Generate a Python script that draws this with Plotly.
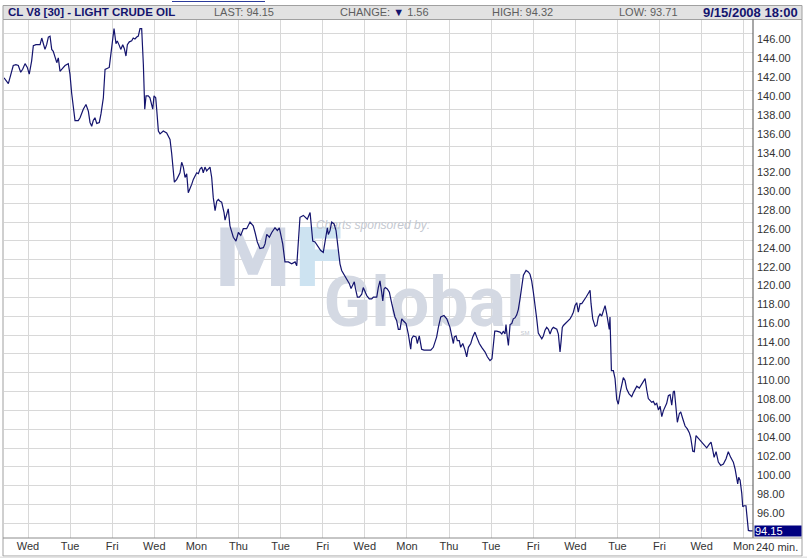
import plotly.graph_objects as go

# CL V8 light crude oil, 30 min bars, 2 Jul - 15 Sep 2008
# x is counted in trading sessions from Wed 2 Jul (one grid step = 3 sessions)
day = [
    -1.71, -1.40, -1.05, -0.86, -0.69, -0.52, -0.38, -0.21, -0.05, 0.09,
    0.26, 0.38, 0.57, 0.86, 0.98, 1.09, 1.21, 1.33, 1.45, 1.57,
    1.69, 1.80, 1.92, 2.05, 2.16, 2.28, 2.40, 2.64, 2.87, 2.99,
    3.11, 3.23, 3.35, 3.58, 3.71, 3.94, 4.13, 4.30, 4.42, 4.54,
    4.65, 4.77, 4.90, 5.08, 5.20, 5.37, 5.49, 5.79, 5.89, 6.04,
    6.13, 6.27, 6.36, 6.51, 6.61, 6.75, 6.86, 6.98, 7.08, 7.22,
    7.39, 7.50, 7.62, 7.75, 7.86, 7.98, 8.10, 8.22, 8.32, 8.41,
    8.57, 8.69, 8.81, 8.89, 8.98, 9.10, 9.17, 9.29, 9.41, 9.64,
    9.88, 10.00, 10.12, 10.24, 10.35, 10.43, 10.60, 10.83, 10.95, 11.07,
    11.19, 11.31, 11.42, 11.54, 11.67, 11.78, 11.90, 12.02, 12.14, 12.26,
    12.38, 12.49, 12.61, 12.73, 12.97, 13.09, 13.20, 13.33, 13.45, 13.56,
    13.68, 13.80, 13.97, 14.04, 14.27, 14.39, 14.63, 14.82, 14.99, 15.16,
    15.34, 15.58, 15.82, 16.05, 16.18, 16.34, 16.53, 16.77, 16.89, 17.01,
    17.20, 17.37, 17.60, 17.77, 17.91, 18.01, 18.15, 18.31, 18.55, 18.79,
    19.03, 19.15, 19.26, 19.38, 19.62, 19.90, 20.10, 20.22, 20.29, 20.45,
    20.69, 20.86, 21.04, 21.24, 21.33, 21.40, 21.52, 21.64, 21.81, 21.95,
    22.11, 22.23, 22.35, 22.52, 22.71, 22.90, 23.02, 23.14, 23.25, 23.32,
    23.47, 23.61, 23.78, 23.89, 24.01, 24.14, 24.32, 24.49, 24.61, 24.85,
    24.96, 25.08, 25.20, 25.28, 25.37, 25.46, 25.60, 25.75, 25.92, 26.03,
    26.15, 26.27, 26.39, 26.51, 26.63, 26.74, 26.94, 27.10, 27.27, 27.34,
    27.46, 27.65, 27.74, 27.88, 28.05, 28.22, 28.41, 28.70, 28.88, 29.12,
    29.24, 29.41, 29.64, 29.84, 30.07, 30.31, 30.38, 30.50, 30.59, 30.73,
    30.83, 30.98, 31.14, 31.26, 31.38, 31.55, 31.69, 31.85, 31.97, 32.16,
    32.33, 32.57, 32.73, 32.92, 33.06, 33.16, 33.26, 33.40, 33.63, 33.76,
    33.87, 33.99, 34.06, 34.15, 34.23, 34.35, 34.47, 34.58, 34.70, 34.82,
    34.94, 35.06, 35.18, 35.30, 35.49, 35.65, 35.77, 35.89, 36.01, 36.13,
    36.25, 36.36, 36.49, 36.61, 36.72, 36.84, 36.96, 37.08, 37.20, 37.32,
    37.43, 37.56, 37.68, 37.79, 37.91, 37.99, 38.07, 38.15, 38.27, 38.39,
    38.50, 38.62, 38.74, 38.86, 38.98, 39.10, 39.21, 39.34, 39.46, 39.57,
    39.77, 39.93, 40.05, 40.12, 40.24, 40.41, 40.53, 40.64, 40.76, 40.88,
    41.00, 41.12, 41.24, 41.35, 41.42, 41.47, 41.52, 41.57, 41.71, 41.83,
    41.95, 42.06, 42.19, 42.31, 42.42, 42.54, 42.66, 42.83, 43.02, 43.13,
    43.38, 43.56, 43.73, 43.85, 43.97, 44.09, 44.20, 44.32, 44.44, 44.56,
    44.68, 44.80, 44.92, 45.04, 45.16, 45.27, 45.39, 45.51, 45.63, 45.75,
    45.87, 45.98, 46.06, 46.18, 46.27, 46.41, 46.51, 46.65, 46.82, 46.98,
    47.12, 47.22, 47.37, 47.48, 47.60, 47.77, 48.01, 48.24, 48.36, 48.55,
    48.67, 48.79, 48.89, 49.03, 49.19, 49.36, 49.55, 49.74, 49.90, 50.07,
    50.26, 50.38, 50.50, 50.57, 50.64, 50.74, 50.86, 50.93, 51.02, 51.16,
    51.21, 51.33, 51.45, 51.64,
]
price = [
    141.9, 141.3, 143.2, 143.3, 143.2, 142.5, 142.8, 143.4, 143.0, 142.3,
    143.7, 145.3, 145.4, 145.4, 146.1, 145.6, 144.9, 145.4, 146.2, 146.3,
    144.9, 144.7, 144.2, 143.5, 144.0, 142.6, 142.8, 143.2, 143.4, 142.3,
    140.3, 138.8, 137.4, 137.4, 137.7, 138.6, 139.1, 138.4, 137.2, 136.8,
    137.4, 137.7, 137.1, 137.2, 138.1, 139.8, 142.8, 143.0, 144.4, 146.5,
    147.1, 145.5, 145.8, 145.3, 144.9, 145.4, 145.0, 144.2, 145.4, 145.7,
    145.8, 146.1, 146.0, 146.2, 146.3, 147.1, 147.1, 143.3, 138.6, 140.0,
    140.0, 139.8, 139.1, 138.6, 140.0, 139.8, 138.6, 136.3, 136.0, 136.3,
    136.1, 135.8, 135.4, 133.9, 132.5, 130.9, 131.2, 131.9, 133.0, 132.5,
    131.4, 131.8, 129.8, 130.2, 130.7, 131.2, 131.6, 131.9, 131.8, 132.3,
    132.5, 131.9, 132.5, 132.1, 132.5, 131.4, 129.3, 127.9, 128.9, 129.1,
    128.9, 128.8, 127.7, 126.9, 128.1, 126.3, 125.1, 124.7, 125.6, 125.3,
    126.0, 126.0, 126.7, 126.3, 125.6, 124.6, 123.9, 124.0, 124.4, 125.4,
    125.1, 125.6, 126.1, 125.8, 126.1, 125.4, 124.4, 122.5, 122.5, 122.3,
    122.5, 122.1, 124.7, 127.2, 127.4, 127.0, 127.7, 126.1, 124.7, 124.6,
    124.0, 123.7, 123.5, 125.1, 126.1, 125.4, 125.8, 126.7, 126.5, 125.8,
    124.0, 122.3, 121.6, 121.2, 120.7, 120.2, 119.7, 120.0, 120.4, 119.8,
    118.8, 118.8, 119.1, 119.8, 119.3, 118.95, 118.6, 118.6, 118.8, 118.8,
    119.8, 120.5, 119.3, 118.4, 119.65, 119.8, 119.65, 119.3, 118.1, 117.4,
    116.7, 116.3, 115.4, 115.4, 116.5, 116.3, 116.0, 114.9, 113.3, 114.4,
    114.7, 114.6, 113.9, 114.7, 113.3, 113.2, 113.2, 113.2, 113.5, 114.6,
    115.6, 116.7, 116.85, 116.5, 115.6, 113.9, 114.6, 114.7, 114.2, 114.2,
    113.5, 113.9, 113.2, 112.5, 113.5, 113.9, 114.6, 115.1, 114.6, 113.9,
    113.5, 113.0, 112.5, 112.1, 112.3, 114.2, 115.2, 115.2, 115.1, 114.9,
    115.2, 114.9, 115.9, 114.6, 113.7, 115.9, 116.0, 116.5, 116.6, 116.9,
    117.5, 118.6, 120.2, 121.1, 121.6, 121.45, 121.2, 120.5, 119.3, 118.1,
    116.5, 115.0, 114.65, 114.4, 114.7, 115.3, 115.6, 115.4, 114.9, 115.4,
    115.6, 115.5, 115.4, 114.9, 113.0, 114.2, 115.6, 115.8, 115.96, 116.1,
    116.3, 116.5, 116.8, 117.2, 117.9, 118.2, 117.2, 118.1, 118.1, 118.4,
    118.8, 119.2, 119.5, 118.1, 116.5, 115.7, 115.8, 116.7, 117.0, 116.8,
    117.5, 117.9, 117.0, 115.8, 115.4, 116.7, 112.8, 111.05, 111.05, 110.2,
    108.0, 107.5, 108.7, 109.6, 110.3, 110.0, 109.1, 108.6, 108.3, 108.7,
    109.4, 109.2, 109.6, 109.9, 110.2, 109.0, 108.1, 107.9, 107.7, 107.8,
    107.45, 107.6, 106.9, 107.3, 106.2, 106.8, 107.2, 107.6, 108.4, 108.5,
    107.4, 108.8, 108.9, 106.7, 105.6, 106.5, 106.7, 106.0, 105.2, 104.9,
    104.5, 104.0, 102.55, 102.5, 104.2, 103.9, 103.5, 103.2, 102.9, 103.3,
    103.5, 102.7, 101.9, 102.5, 101.4, 101.05, 101.2, 101.75, 102.5, 101.9,
    101.4, 100.7, 99.5, 99.1, 99.8, 99.5, 98.1, 96.7, 96.8, 96.8,
    96.0, 94.2, 94.15, 94.15,
]
assert len(day) == len(price)

tick_days = list(range(0, 52, 3))
tick_names = ["Wed", "Tue", "Fri", "Wed", "Mon", "Thu", "Tue", "Fri", "Wed",
              "Mon", "Thu", "Tue", "Fri", "Wed", "Tue", "Fri", "Wed", "Mon"]
price_ticks = list(range(96, 147, 2))

symbol = "CL V8 [30] - LIGHT CRUDE OIL"
last_px, change, high, low = 94.15, 1.56, 94.32, 93.71
stamp = "9/15/2008 18:00"

W, H = 807, 558
L, R, T, B = 4, 54, 20, 20
FONT = "Liberation Sans, Arial, sans-serif"
NAVY = "#14146e"
GRID = "#d8d8d8"
y_range = [93.40, 148.0]


def px(x):
    return (x - L) / (W - L - R)


def py(y):
    return (H - B - y) / (H - T - B)


fig = go.Figure()

# sponsor watermark, sits under the price line
fig.add_trace(go.Scatter(
    x=[17.96], y=[122.07], mode="text",
    text=["M<span style='color:#cde3f1'>F</span>"],
    textfont=dict(family="DejaVu Sans", size=80, color="#d2d8e4", weight=800),
    textposition="middle center", hoverinfo="skip", showlegend=False,
))
fig.add_trace(go.Scatter(
    x=[28.22], y=[117.54], mode="text", text=["Global"],
    textfont=dict(family="Roboto, Liberation Sans", size=70, color="#d4d9e3", weight=700),
    textposition="middle center", hoverinfo="skip", showlegend=False,
))
fig.add_trace(go.Scatter(
    x=[24.58, 35.42], y=[126.29, 115.0], mode="text",
    text=["<i>Charts sponsored by:</i>", "SM"],
    textfont=dict(family=FONT, size=[12, 6], color="#c4c8d0"),
    textposition="middle center", hoverinfo="skip", showlegend=False,
))

fig.add_trace(go.Scatter(
    x=day, y=price, mode="lines",
    line=dict(color=NAVY, width=1.2),
    showlegend=False,
))

# gridlines of the original are not tied to the price labels
fig.add_trace(go.Scatter(x=[], y=[], yaxis="y2", showlegend=False, hoverinfo="skip"))

shapes = [
    dict(type="rect", xref="paper", yref="paper", x0=px(3), x1=px(802), y0=py(19.5), y1=py(5.5),
         fillcolor="#e2e2e2", line=dict(color="#a0a0a0", width=1), layer="above"),
    dict(type="rect", xref="paper", yref="paper", x0=px(3), x1=px(802), y0=py(556), y1=py(19.5),
         line=dict(color="#a0a0a0", width=1), layer="above"),
    dict(type="line", xref="paper", yref="paper", x0=px(753), x1=px(753), y0=py(538), y1=py(19.5),
         line=dict(color="#505050", width=1), layer="above"),
    dict(type="line", xref="paper", yref="paper", x0=px(3), x1=px(802), y0=py(538), y1=py(538),
         line=dict(color="#8c8c8c", width=1), layer="above"),
    dict(type="rect", xref="paper", yref="paper", x0=px(0), x1=px(807), y0=py(558), y1=py(556.5),
         fillcolor="#e4e4e4", line=dict(width=0), layer="above"),
    dict(type="line", xref="paper", yref="paper", x0=px(172), x1=px(265), y0=py(1.5), y1=py(1.5),
         line=dict(color="#2b3b9b", width=1), layer="above"),
]

gray = "#5e5e5e"
annotations = [
    dict(text="<b>" + symbol + "</b>", x=px(6), y=py(12.5), xanchor="left",
         font=dict(family=FONT, size=11.5, color=NAVY)),
    dict(text=f"LAST: {last_px:.2f}", x=px(212), y=py(12.5), xanchor="left",
         font=dict(family=FONT, size=11, color=gray)),
    dict(text=f"CHANGE: <span style='color:{NAVY}'>▼</span> {change:.2f}", x=px(338), y=py(12.5),
         xanchor="left", font=dict(family=FONT, size=11, color=gray)),
    dict(text=f"HIGH: {high:.2f}", x=px(490), y=py(12.5), xanchor="left",
         font=dict(family=FONT, size=11, color=gray)),
    dict(text=f"LOW: {low:.2f}", x=px(617), y=py(12.5), xanchor="left",
         font=dict(family=FONT, size=11, color=gray)),
    dict(text="<b>" + stamp + "</b>", x=px(800), y=py(12.5), xanchor="right",
         font=dict(family=FONT, size=13, color=NAVY)),
    dict(text="240 min.", x=px(777), y=py(547), xanchor="center",
         font=dict(family=FONT, size=11, color="#333333")),
    dict(text=f"{last_px:.2f}", x=px(754), xref="paper", y=last_px, yref="y",
         xanchor="left", align="left", width=46, height=10, borderpad=0,
         bgcolor="#000080", font=dict(family=FONT, size=11, color="white")),
]
for a in annotations:
    a.setdefault("xref", "paper")
    a.setdefault("yref", "paper")
    a.setdefault("yanchor", "middle")
    a["showarrow"] = False

fig.update_layout(
    width=W, height=H,
    margin=dict(l=L, r=R, t=T, b=B),
    paper_bgcolor="white", plot_bgcolor="white",
    showlegend=False,
    shapes=shapes,
    annotations=annotations,
    xaxis=dict(range=[-1.71, 51.66], tickvals=tick_days, ticktext=tick_names,
               showgrid=True, gridcolor=GRID, gridwidth=1, zeroline=False,
               showline=False, ticks="", fixedrange=True,
               tickfont=dict(family=FONT, size=11, color="#333333")),
    yaxis=dict(range=y_range, side="right", tickvals=price_ticks,
               ticktext=[f"{v:.2f}" for v in price_ticks],
               showgrid=False, zeroline=False, showline=False, ticks="",
               ticklabelstandoff=3,
               tickfont=dict(family=FONT, size=11, color="#333333")),
    yaxis2=dict(range=y_range, overlaying="y", tick0=146.53, dtick=1.984,
                showgrid=True, gridcolor=GRID, gridwidth=1,
                showticklabels=False, ticks="", zeroline=False, showline=False),
)

# page body margin would shift the figure by 8 px
fig.write_html("out.html", config={"displayModeBar": False},
               post_script="document.body.style.margin='0';document.body.style.overflow='hidden';")
